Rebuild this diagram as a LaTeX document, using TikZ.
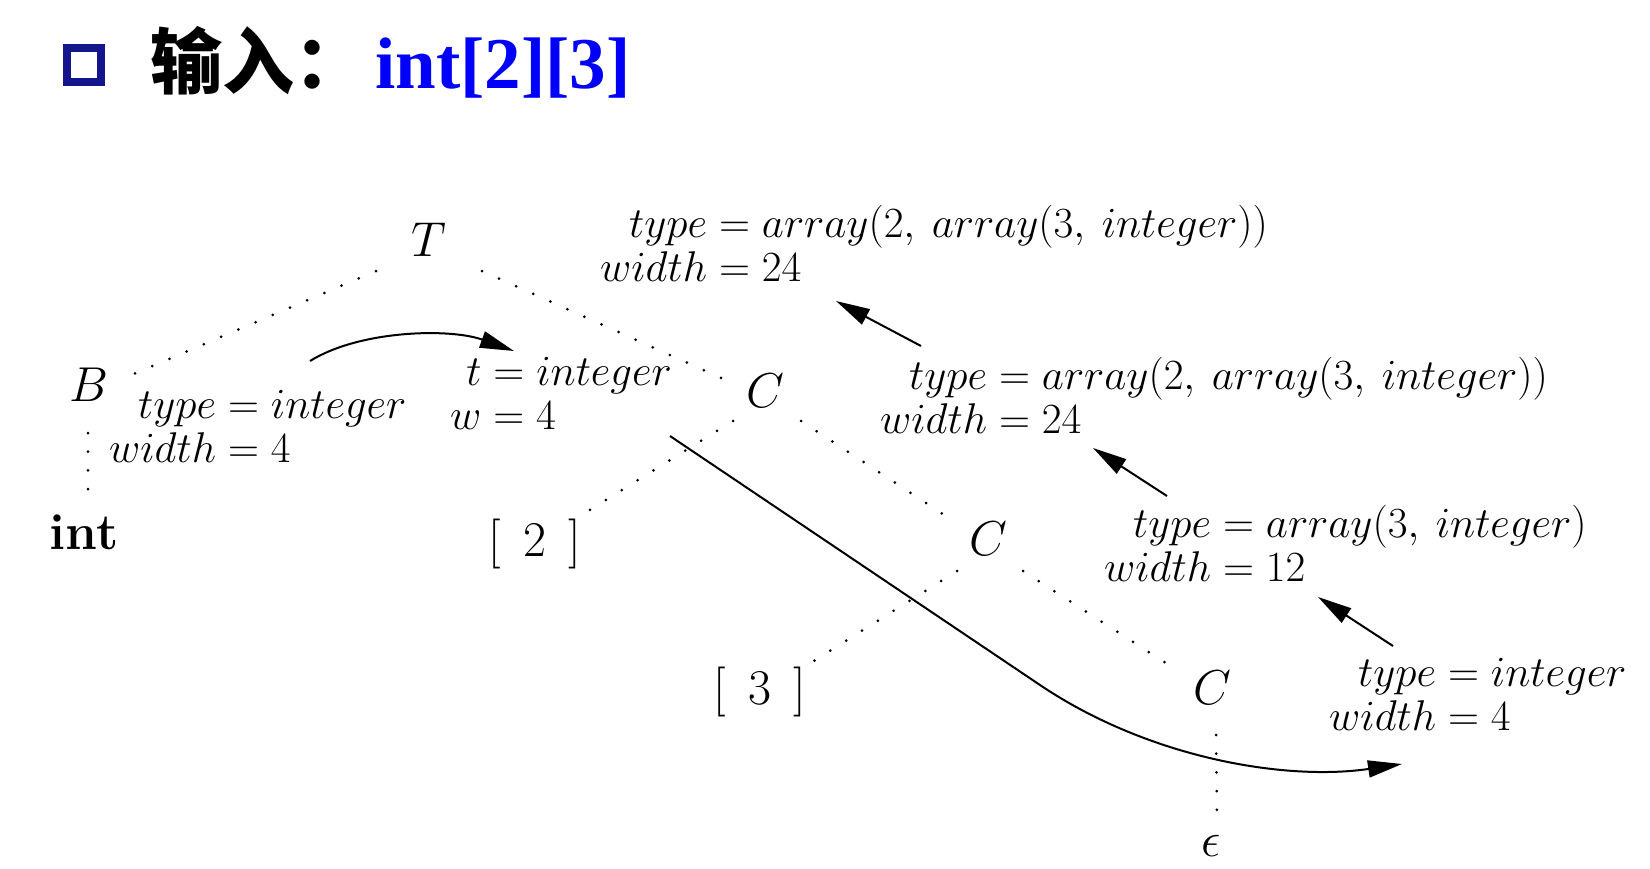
\RequirePackage{fix-cm}
\documentclass[tikz,border=0pt]{standalone}
\usepackage{fontspec}
\newfontfamily\cjkfont{Noto Sans CJK SC}
\newfontfamily\titlefont{Liberation Serif}
\usetikzlibrary{arrows.meta}
\definecolor{navy}{RGB}{20,20,140}
\definecolor{tblue}{RGB}{0,0,250}
\begin{document}
\begin{tikzpicture}[x=1pt,y=-1pt,
  lbl/.style={inner sep=0pt, anchor=base west, font=\fontsize{43}{44.5}\selectfont},
  sym/.style={inner sep=0pt, anchor=base, font=\fontsize{49}{52}\selectfont},
  tree/.style={line width=3pt, line cap=round, dash pattern=on 0pt off 18.7pt},
  conn/.style={line width=2pt, -{Triangle[length=34pt,width=17pt]}},
]
\useasboundingbox (0,0) rectangle (1650,868);
% title
\node[draw=navy, line width=8pt, minimum size=34pt, inner sep=0pt] (box) at (84,65) {};
\node[anchor=base west, inner sep=0pt, font={\cjkfont\bfseries\fontsize{72}{80}\selectfont}] (zh) at (150,88) {输入：};
\node[anchor=base west, inner sep=0pt, text=tblue, font={\titlefont\bfseries\fontsize{73}{80}\selectfont}] (inp) at (375,88) {int[2][3]};
% tree nodes
\node[sym] (T) at (429,256) {$T$};
\node[sym] (B) at (89,401) {$B$};
\node[sym, font=\bfseries\fontsize{51}{54}\selectfont] (int) at (84,549) {int};
\node[sym] (C1) at (765,407) {$C$};
\node[sym, font=\fontsize{50}{54}\selectfont] (N2) at (535,556) {[\hspace{0.45em}2\hspace{0.45em}]};
\node[sym] (C2) at (988,555) {$C$};
\node[sym, font=\fontsize{50}{54}\selectfont] (N3) at (760,704) {[\hspace{0.45em}3\hspace{0.45em}]};
\node[sym] (C3) at (1212,704) {$C$};
\node[sym] (eps) at (1211,856) {$\epsilon$};
% tree edges
\draw[tree] ([shift={(-53,15)}]T.base) -- ([shift={(40,-25)}]B.base);
\draw[tree] ([shift={(53,15)}]T.base) -- ([shift={(-37,-26)}]C1.base);
\draw[tree] ([shift={(-1,32)}]B.base) -- ([shift={(4,-42)}]int.base);
\draw[tree] ([shift={(-32,14)}]C1.base) -- ([shift={(45,-40)}]N2.base);
\draw[tree] ([shift={(36,14)}]C1.base) -- ([shift={(-36,-35)}]C2.base);
\draw[tree] ([shift={(-31,16)}]C2.base) -- ([shift={(49,-40)}]N3.base);
\draw[tree] ([shift={(35,16)}]C2.base) -- ([shift={(-40,-37)}]C3.base);
\draw[tree] ([shift={(4,31)}]C3.base) -- ([shift={(6,-36)}]eps.base);
% attribute labels
\node[lbl] (Ab) at (109,418) {$\begin{array}[t]{@{}r@{}l@{}} type & {}= integer\\ width & {}= 4\end{array}$};
\node[lbl] (At) at (450,385) {$\begin{array}[t]{@{}r@{}l@{}} t & {}= integer\\ w & {}= 4\end{array}$};
\node[lbl] (A1) at (600,237) {$\begin{array}[t]{@{}r@{}l@{}} type & {}= array(2,\: array(3,\: integer))\\ width & {}= 24\end{array}$};
\node[lbl] (A2) at (880,389) {$\begin{array}[t]{@{}r@{}l@{}} type & {}= array(2,\: array(3,\: integer))\\ width & {}= 24\end{array}$};
\node[lbl] (A3) at (1104,537) {$\begin{array}[t]{@{}r@{}l@{}} type & {}= array(3,\: integer)\\ width & {}= 12\end{array}$};
\node[lbl] (A4) at (1329,686) {$\begin{array}[t]{@{}r@{}l@{}} type & {}= integer\\ width & {}= 4\end{array}$};
% arrows
\draw[conn] ([shift={(201,-57)}]Ab.base west) .. controls +(50,-31) and +(-64,-23) .. ([shift={(64,-34)}]At.base west);
\draw[conn] ([shift={(220,51)}]At.base west) -- +(370,249) .. controls +(110,74) and +(-115,17) .. ([shift={(73,78)}]A4.base west);
\draw[conn] ([shift={(64,-40)}]A4.base west) -- ([shift={(214,60)}]A3.base west);
\draw[conn] ([shift={(63,-41)}]A3.base west) -- ([shift={(213,59)}]A2.base west);
\draw[conn] ([shift={(41,-43)}]A2.base west) -- ([shift={(236,64)}]A1.base west);
\end{tikzpicture}
\end{document}
